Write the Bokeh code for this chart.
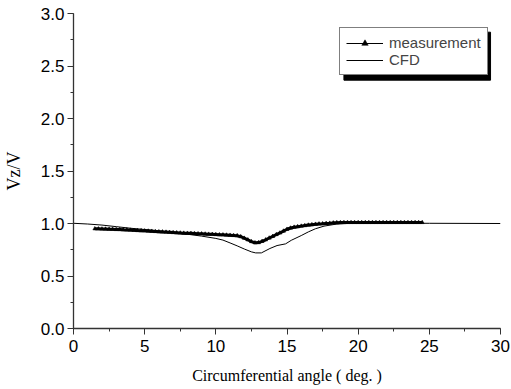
from bokeh.plotting import figure
from bokeh.models import Range1d, Legend, LegendItem, SingleIntervalTicker
from bokeh.embed import file_html
from bokeh.resources import INLINE

# measurement data (circumferential angle, Vz/V)
meas_x = [1.5, 1.75, 2.0, 2.25, 2.5, 2.75, 3.0, 3.25, 3.5, 3.75, 4.0, 4.25, 4.5, 4.75,
          5.0, 5.25, 5.5, 5.75, 6.0, 6.25, 6.5, 6.75, 7.0, 7.25, 7.5, 7.75, 8.0, 8.25,
          8.5, 8.75, 9.0, 9.25, 9.5, 9.75, 10.0, 10.25, 10.5, 10.75, 11.0, 11.25, 11.5,
          11.75, 12.0, 12.25, 12.5, 12.75, 13.0, 13.25, 13.5, 13.75, 14.0, 14.25, 14.5,
          14.75, 15.0, 15.25, 15.5, 15.75, 16.0, 16.25, 16.5, 16.75, 17.0, 17.25, 17.5,
          17.75, 18.0, 18.25, 18.5, 18.75, 19.0, 19.25, 19.5, 19.75, 20.0, 20.25, 20.5,
          20.75, 21.0, 21.25, 21.5, 21.75, 22.0, 22.25, 22.5, 22.75, 23.0, 23.25, 23.5,
          23.75, 24.0, 24.25, 24.5]
meas_y = [0.950, 0.949, 0.948, 0.947, 0.946, 0.945, 0.943, 0.942, 0.940, 0.939, 0.937, 0.935, 0.933, 0.932,
          0.930, 0.928, 0.926, 0.924, 0.922, 0.920, 0.918, 0.916, 0.914, 0.912, 0.910, 0.908, 0.907, 0.906,
          0.905, 0.903, 0.902, 0.900, 0.898, 0.897, 0.895, 0.893, 0.892, 0.890, 0.888, 0.886, 0.884,
          0.875, 0.860, 0.845, 0.828, 0.817, 0.818, 0.830, 0.845, 0.862, 0.878, 0.895, 0.910,
          0.928, 0.945, 0.957, 0.965, 0.970, 0.975, 0.980, 0.985, 0.989, 0.993, 0.996, 0.998,
          1.001, 1.003, 1.006, 1.008, 1.009, 1.010, 1.010, 1.010, 1.010, 1.010, 1.010, 1.010,
          1.010, 1.010, 1.010, 1.010, 1.010, 1.010, 1.010, 1.010, 1.010, 1.010, 1.010, 1.010,
          1.010, 1.010, 1.010, 1.010]

# CFD data
cfd_x = [0.0, 1.0, 2.0, 3.0, 4.0, 5.0, 6.0, 7.0, 8.0, 9.0, 10.0, 10.5, 11.0, 11.5, 12.0,
         12.5, 12.8, 13.2, 13.8, 14.3, 14.9, 15.3, 16.0, 16.5, 17.0, 17.6, 18.5, 19.5,
         22.0, 25.0, 30.0]
cfd_y = [1.002, 0.995, 0.985, 0.970, 0.955, 0.943, 0.930, 0.915, 0.898, 0.880, 0.858, 0.842,
         0.815, 0.787, 0.757, 0.730, 0.720, 0.720, 0.762, 0.790, 0.806, 0.840, 0.885, 0.920,
         0.950, 0.975, 0.995, 1.002, 1.003, 1.002, 1.000]

x_ticks = [0, 5, 10, 15, 20, 25, 30]
y_ticks = [0.0, 0.5, 1.0, 1.5, 2.0, 2.5, 3.0]

p = figure(width=511, height=389, output_backend="svg", toolbar_location=None,
           x_range=Range1d(0, 30), y_range=Range1d(0, 3),
           min_border_left=72, min_border_right=11, min_border_top=13, min_border_bottom=61)
p.outline_line_color = None
p.xgrid.visible = False
p.ygrid.visible = False

# legend shadow (layout decoration)
p.quad(left=[19.0], right=[29.3], top=[2.822], bottom=[2.365],
       fill_color="black", line_color="black")

r_cfd = p.line(cfd_x, cfd_y, line_color="black", line_width=1)
p.line(meas_x, meas_y, line_color="black", line_width=3)
r_mline = p.line(meas_x, meas_y, line_color="black", line_width=1)
r_mmark = p.scatter(meas_x, meas_y, marker="triangle", size=4,
                    fill_color="black", line_color="black", line_width=0.5)

for ax in (p.xaxis[0], p.yaxis[0]):
    ax.axis_line_width = 1.3
    ax.axis_line_color = "#333333"
    ax.major_tick_line_color = "#333333"
    ax.minor_tick_line_color = "#333333"
    ax.major_tick_in = 0
    ax.major_tick_out = 6
    ax.minor_tick_in = 0
    ax.minor_tick_out = 3
    ax.major_label_text_font = "Liberation Sans"
    ax.major_label_text_font_size = "17px"
    ax.major_label_text_color = "black"
    ax.axis_label_text_font = "Liberation Serif"
    ax.axis_label_text_font_style = "normal"
    ax.axis_label_text_color = "black"

p.xaxis[0].axis_label_text_font_size = "16px"
p.yaxis[0].axis_label_text_font_size = "18px"
p.xaxis[0].ticker = SingleIntervalTicker(interval=5, num_minor_ticks=2)
p.yaxis[0].ticker = SingleIntervalTicker(interval=0.5, num_minor_ticks=2)
p.xaxis[0].major_label_overrides = {t: str(t) for t in x_ticks}
p.yaxis[0].major_label_overrides = {t: f"{t:.1f}" for t in y_ticks}
p.xaxis[0].axis_label = "Circumferential angle ( deg. )"
p.yaxis[0].axis_label = "Vz/V"
p.xaxis[0].major_label_standoff = 5
p.yaxis[0].major_label_standoff = 3
p.xaxis[0].axis_label_standoff = 12
p.yaxis[0].axis_label_standoff = 14

legend = Legend(items=[LegendItem(label="measurement", renderers=[r_mline, r_mmark]),
                       LegendItem(label="CFD", renderers=[r_cfd])],
                location=(266, 253), orientation="vertical")
legend.border_line_color = "black"
legend.border_line_width = 1
legend.background_fill_color = "white"
legend.background_fill_alpha = 1
legend.label_text_font = "Liberation Sans"
legend.label_text_font_size = "15px"
legend.padding = 6
legend.margin = 0
legend.spacing = 0
legend.glyph_width = 37
legend.glyph_height = 16
legend.label_height = 16
legend.label_standoff = 6
p.add_layout(legend)

open("out.html", "w").write(file_html(p, INLINE))
